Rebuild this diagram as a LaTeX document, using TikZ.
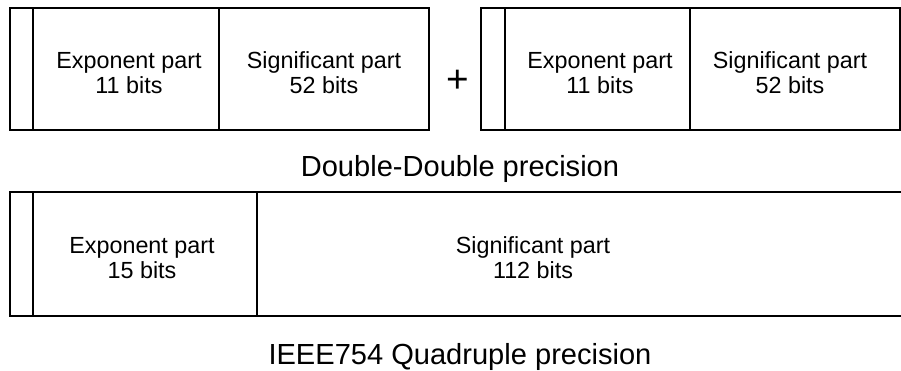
\documentclass[tikz,border=0pt]{standalone}
\usepackage{fontspec}
\setmainfont{Liberation Sans}
\tikzset{
  field/.style={draw=black, line width=1.5pt},
  lbl/.style={align=center, font=\fontsize{17.5}{18.75}\selectfont, inner sep=0pt},
  title/.style={font=\fontsize{21.8}{24}\selectfont, anchor=base, inner sep=0pt},
}
\begin{document}
\begin{tikzpicture}[x=0.75pt,y=-0.75pt]
\useasboundingbox (0,0) rectangle (901,371);
\fill[white] (0,0) rectangle (901,371);
% Double-Double: first double
\draw[field] (10,8) rectangle (429,130);
\draw[field] (33,8) -- (33,130);
\draw[field] (219,8) -- (219,130);
\node[lbl] (e1) at (129,73) {Exponent part\\11 bits};
\node[lbl] (s1) at (324,73) {Significant part\\52 bits};
% plus
\node[font=\fontsize{29}{32}\selectfont, inner sep=0pt] (plus) at (457.5,81) {+};
% second double
\draw[field] (481,8) rectangle (900,130);
\draw[field] (505,8) -- (505,130);
\draw[field] (690,8) -- (690,130);
\node[lbl] (e2) at (600,73) {Exponent part\\11 bits};
\node[lbl] (s2) at (790,73) {Significant part\\52 bits};
\node[title] (t1) at (460,176) {Double-Double precision};
% Quadruple
\begin{scope}
\clip (0,0) rectangle (901,371);
\draw[field] (960,192) -- (10,192) -- (10,316) -- (960,316);
\end{scope}
\draw[field] (33,192) -- (33,316);
\draw[field] (257,192) -- (257,316);
\node[lbl] (e3) at (142,258) {Exponent part\\15 bits};
\node[lbl] (s3) at (533,258) {Significant part\\112 bits};
\node[title] (t2) at (460,364) {IEEE754 Quadruple precision};
\end{tikzpicture}
\end{document}
